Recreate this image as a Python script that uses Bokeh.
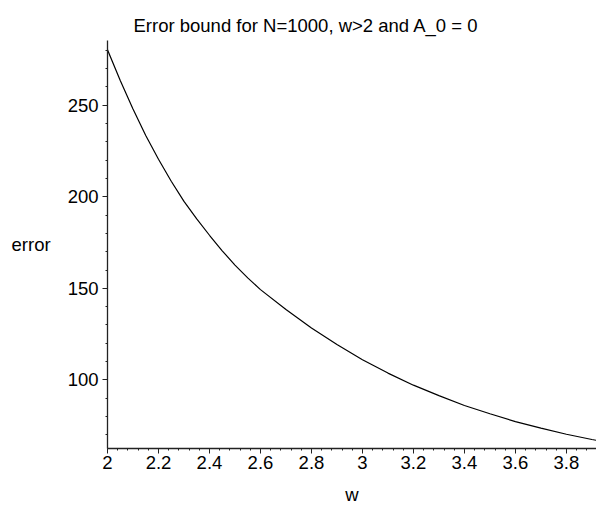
from bokeh.plotting import figure
from bokeh.models import Range1d, FixedTicker
from bokeh.embed import file_html
from bokeh.resources import INLINE

# data
w_values = [2.0, 2.05, 2.1, 2.15, 2.2, 2.25, 2.3, 2.35, 2.4, 2.45, 2.5, 2.55,
            2.6, 2.7, 2.8, 2.9, 3.0, 3.1, 3.2, 3.3, 3.4, 3.5, 3.6, 3.7, 3.8,
            3.9, 3.92]
error_values = [280.3, 263.5, 248.0, 233.5, 220.5, 208.5, 197.5, 188.0, 179.0,
                170.5, 162.7, 155.7, 149.3, 138.4, 128.3, 119.3, 111.0, 103.7,
                97.1, 91.4, 86.0, 81.5, 77.2, 73.6, 70.3, 67.4, 66.9]

x_ticks = [2, 2.2, 2.4, 2.6, 2.8, 3, 3.2, 3.4, 3.6, 3.8]
x_tick_labels = ["2", "2.2", "2.4", "2.6", "2.8", "3", "3.2", "3.4", "3.6", "3.8"]
y_ticks = [100, 150, 200, 250]
y_tick_labels = ["100", "150", "200", "250"]

FONT = "Liberation Sans"
FS = "18.5px"

p = figure(width=596, height=510, output_backend="svg", toolbar_location=None,
           x_range=Range1d(2.0, 3.918), y_range=Range1d(62.5, 285.4),
           title="Error bound for N=1000, w>2 and A_0 = 0",
           min_border_left=107, min_border_right=0, min_border_top=40,
           min_border_bottom=62)
p.outline_line_color = None
p.background_fill_color = "white"
p.border_fill_color = "white"
p.grid.visible = False

p.title.text_font = FONT
p.title.text_font_size = FS
p.title.text_font_style = "normal"
p.title.text_color = "black"
p.title.align = "left"
p.title.offset = 26

p.line(w_values, error_values, line_color="black", line_width=1.2)

x_minor = [round(2 + 0.04 * i, 2) for i in range(0, 49)]
y_minor = list(range(70, 290, 10))

for ax in (p.xaxis[0], p.yaxis[0]):
    ax.axis_line_color = "#222222"
    ax.axis_line_width = 1.3
    ax.major_tick_line_color = "#222222"
    ax.minor_tick_line_color = "#222222"
    ax.major_tick_out = 5
    ax.major_tick_in = 0
    ax.minor_tick_out = 2
    ax.minor_tick_in = 0
    ax.major_label_text_font = FONT
    ax.major_label_text_font_size = FS
    ax.major_label_text_color = "black"
    ax.axis_label_text_font = FONT
    ax.axis_label_text_font_size = FS
    ax.axis_label_text_font_style = "normal"
    ax.axis_label_text_color = "black"

p.xaxis[0].ticker = FixedTicker(ticks=x_ticks, minor_ticks=x_minor)
p.xaxis[0].major_label_overrides = dict(zip(x_ticks, x_tick_labels))
p.xaxis[0].axis_label = "w"
p.xaxis[0].major_label_standoff = 2
p.xaxis[0].axis_label_standoff = 12

p.yaxis[0].ticker = FixedTicker(ticks=y_ticks, minor_ticks=y_minor)
p.yaxis[0].major_label_overrides = dict(zip(y_ticks, y_tick_labels))
p.yaxis[0].axis_label = "error"
p.yaxis[0].axis_label_orientation = "horizontal"
p.yaxis[0].major_label_standoff = 4
p.yaxis[0].axis_label_standoff = 14

open("out.html", "w").write(file_html(p, INLINE))
